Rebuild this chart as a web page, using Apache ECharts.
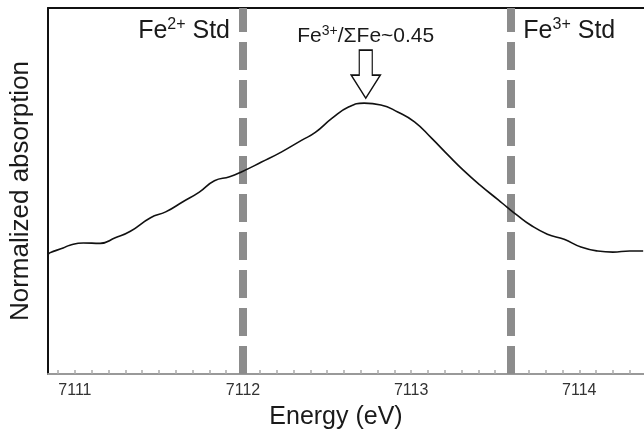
<!DOCTYPE html>
<html>
<head>
<meta charset="utf-8">
<script src="https://cdn.jsdelivr.net/npm/echarts@6/dist/echarts.min.js"></script>
<style>
  html, body { margin: 0; padding: 0; background: #fff; }
  #chart { width: 644px; height: 442px; }
</style>
</head>
<body>
<div id="chart"></div>
<script>
// energy (eV) and normalized absorption
var energy = [7110.84, 7110.85, 7110.93, 7110.97, 7111.05, 7111.15, 7111.24, 7111.33, 7111.45,
    7111.54, 7111.64, 7111.74, 7111.83, 7111.92, 7111.99, 7112.11, 7112.23, 7112.35, 7112.43,
    7112.53, 7112.63, 7112.72, 7112.82, 7112.92, 7113.02, 7113.12, 7113.22, 7113.31, 7113.41,
    7113.52, 7113.57, 7113.63, 7113.71, 7113.81, 7113.91, 7114.01, 7114.11, 7114.20, 7114.30, 7114.38];
var absorption = [0.325, 0.331, 0.344, 0.352, 0.358, 0.357, 0.372, 0.390, 0.427,
    0.443, 0.470, 0.497, 0.528, 0.539, 0.552, 0.579, 0.607, 0.639, 0.660,
    0.699, 0.730, 0.740, 0.735, 0.716, 0.689, 0.645, 0.598, 0.557, 0.516,
    0.475, 0.456, 0.434, 0.407, 0.382, 0.368, 0.347, 0.336, 0.333, 0.336, 0.336];
var tickLabels = [7111, 7112, 7113, 7114];
var stdLines = [7112.0, 7113.59];
var peakEnergy = 7112.73;
var peakValue = 0.740;

var xMin = 7110.84, xMax = 7114.385;
var minorTicks = [];
for (var t = 0; t <= 34; t++) {
    minorTicks.push(+(7110.9 + t * 0.1).toFixed(1));
}

var font = '"Liberation Sans", Arial, sans-serif';
var pts = energy.map(function(e, i) { return [e, absorption[i]]; });

var arrowPath = 'path://M8,0 L21,0 L21,25 L29,25 L14.5,48 L0,25 L8,25 Z';
var richStd = {
    n: { fontSize: 25, fontFamily: font, color: '#1a1a1a', lineHeight: 28, verticalAlign: 'bottom' },
    s: { fontSize: 16, fontFamily: font, color: '#1a1a1a', lineHeight: 28, verticalAlign: 'top', padding: [1, 0, 0, 0] }
};
var richRatio = {
    n: { fontSize: 21, fontFamily: font, color: '#1a1a1a', lineHeight: 24, verticalAlign: 'bottom' },
    s: { fontSize: 14, fontFamily: font, color: '#1a1a1a', lineHeight: 24, verticalAlign: 'top', padding: [1, 0, 0, 0] }
};

var chart = echarts.init(document.getElementById('chart'));
chart.setOption({
    animation: false,
    grid: { left: 45, right: 0, top: 8, bottom: 68 },
    xAxis: [{
        type: 'value',
        min: xMin,
        max: xMax,
        name: 'Energy (eV)',
        nameLocation: 'middle',
        nameGap: 31,
        nameTextStyle: { fontSize: 25, fontFamily: font, color: '#1a1a1a', padding: [0, 20, 0, 0] },
        axisLine: { lineStyle: { color: '#999', width: 2 } },
        axisTick: { inside: true, length: 4, customValues: minorTicks, lineStyle: { color: '#aaa', width: 1.5 } },
        axisLabel: {
            customValues: tickLabels, margin: 9, fontSize: 16, fontFamily: font, color: '#333',
            formatter: function(v) { return String(v); }
        },
        splitLine: { show: false }
    }, {
        type: 'value',
        position: 'top',
        min: xMin,
        max: xMax,
        axisLine: { show: true, lineStyle: { color: '#111', width: 2 } },
        axisTick: { show: false },
        axisLabel: { show: false },
        splitLine: { show: false }
    }],
    yAxis: {
        type: 'value',
        min: 0,
        max: 1,
        name: 'Normalized absorption',
        nameLocation: 'middle',
        nameGap: 14,
        nameTextStyle: { fontSize: 26, fontFamily: font, color: '#1a1a1a' },
        axisLine: { show: true, lineStyle: { color: '#111', width: 2 } },
        axisTick: { show: false },
        axisLabel: { show: false },
        splitLine: { show: false }
    },
    series: [{
        type: 'line',
        data: pts,
        smooth: 0.5,
        symbol: 'none',
        lineStyle: { color: '#111', width: 1.6 },
        z: 3,
        markLine: {
            silent: true,
            symbol: 'none',
            label: { show: false },
            lineStyle: { color: '#8c8c8c', width: 8, type: [28, 10] },
            data: stdLines.map(function(x) { return { xAxis: x }; }),
            z: 2
        },
        markPoint: {
            silent: true,
            data: [{
                coord: [peakEnergy, peakValue],
                symbol: arrowPath,
                symbolSize: [29, 48],
                symbolOffset: [0, -29],
                itemStyle: { color: '#fff', borderColor: '#111', borderWidth: 1.5 },
                label: { show: false }
            }, {
                coord: [peakEnergy, peakValue],
                symbol: 'circle',
                symbolSize: 0,
                label: {
                    show: true, position: 'inside', offset: [0, -68],
                    formatter: '{n|Fe}{s|3+}{n|/ΣFe~0.45}', rich: richRatio
                }
            }, {
                coord: [stdLines[0], 1],
                symbol: 'circle',
                symbolSize: 0,
                label: {
                    show: true, position: 'left', distance: 13, offset: [0, 22],
                    formatter: '{n|Fe}{s|2+}{n| Std}', rich: richStd
                }
            }, {
                coord: [stdLines[1], 1],
                symbol: 'circle',
                symbolSize: 0,
                label: {
                    show: true, position: 'right', distance: 13, offset: [0, 22],
                    formatter: '{n|Fe}{s|3+}{n| Std}', rich: richStd
                }
            }]
        }
    }]
});
</script>
</body>
</html>
